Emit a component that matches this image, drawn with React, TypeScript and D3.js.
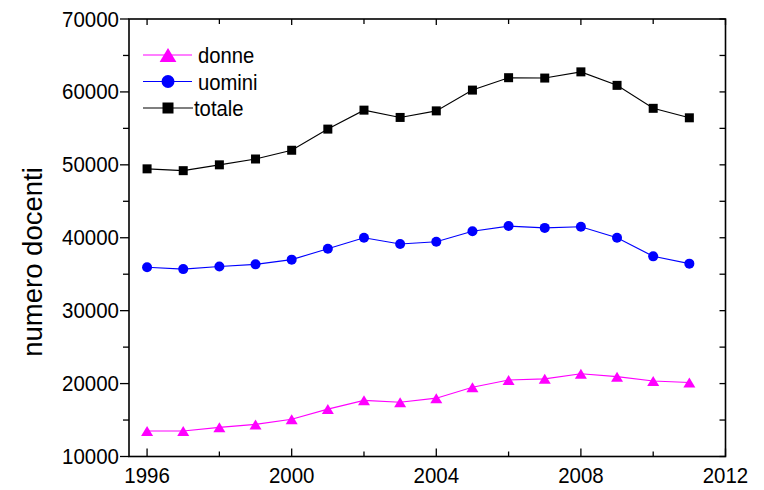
import React from "react";
import * as d3 from "d3";

const years = [1996, 1997, 1998, 1999, 2000, 2001, 2002, 2003, 2004, 2005, 2006, 2007, 2008, 2009, 2010, 2011];
const donne = [13500, 13500, 14000, 14400, 15100, 16500, 17700, 17450, 18000, 19500, 20500, 20650, 21350, 20950, 20350, 20150];
const uomini = [35950, 35700, 36050, 36350, 37000, 38500, 40000, 39150, 39450, 40900, 41600, 41350, 41500, 40000, 37450, 36450];
const totale = [49450, 49200, 50000, 50800, 52000, 54900, 57500, 56500, 57400, 60250, 61950, 61900, 62750, 60900, 57750, 56450];
const xTickLabels = [1996, 2000, 2004, 2008, 2012];
const xMinorTicks = [1998, 2002, 2006, 2010];
const yTickLabels = [10000, 20000, 30000, 40000, 50000, 60000, 70000];
const yMinorTicks = [15000, 25000, 35000, 45000, 55000, 65000];
const seriesNames = ["donne", "uomini", "totale"];
const seriesColors = ["#ff00ff", "#0000ff", "#000000"];
const yLabel = "numero docenti";

const W = 764, H = 490;
const L = 129, R = 725.5, T = 19, B = 456.5;
const FONT = "'Liberation Sans', Arial, sans-serif";

function Marker({ kind, x, y, size, color }: { kind: number; x: number; y: number; size: number; color: string }) {
  if (kind === 0) {
    const w = size * 1.2, h = size;
    return <path d={`M${x},${y - h / 2}L${x + w / 2},${y + h / 2}L${x - w / 2},${y + h / 2}Z`} fill={color} />;
  }
  if (kind === 1) return <circle cx={x} cy={y} r={size / 2} fill={color} />;
  return <rect x={x - size / 2} y={y - size / 2} width={size} height={size} fill={color} />;
}

export default function App() {
  const x = d3.scaleLinear().domain([1995.5, 2012]).range([L, R]);
  const y = d3.scaleLinear().domain([10000, 70000]).range([B, T]);
  const allSeries = [donne, uomini, totale];
  const markerSizes = [10, 10, 9];
  const line = d3.line<[number, number]>().x((d) => x(d[0])).y((d) => y(d[1]));

  return (
    <svg width={W} height={H} style={{ position: "absolute", left: 0, top: 0, background: "#fff" }}>
      <rect x={0} y={0} width={W} height={H} fill="#fff" />
      {allSeries.map((s, i) => (
        <g key={seriesNames[i]}>
          <path d={line(years.map((yr, j) => [yr, s[j]]) as [number, number][]) || ""} fill="none" stroke={seriesColors[i]} strokeWidth={1.1} />
          {years.map((yr, j) => (
            <Marker key={yr} kind={i} x={x(yr)} y={y(s[j])} size={markerSizes[i]} color={seriesColors[i]} />
          ))}
        </g>
      ))}
      {/* frame */}
      <rect x={L} y={T} width={R - L} height={B - T} fill="none" stroke="#000" strokeWidth={1.6} />
      {/* bottom & top ticks */}
      {xTickLabels.map((t) => (
        <g key={"xt" + t}>
          <line x1={x(t)} x2={x(t)} y1={B} y2={B - 8} stroke="#000" strokeWidth={1.3} />
          <line x1={x(t)} x2={x(t)} y1={T} y2={T + 6} stroke="#000" strokeWidth={1.3} />
          <g transform={`translate(${x(t)},${483}) scale(0.93,1)`}>
            <text x={0} y={0} textAnchor="middle" fontFamily={FONT} fontSize={22} fill="#000">{t}</text>
          </g>
        </g>
      ))}
      {xMinorTicks.map((t) => (
        <g key={"xm" + t}>
          <line x1={x(t)} x2={x(t)} y1={B} y2={B - 5} stroke="#000" strokeWidth={1.3} />
          <line x1={x(t)} x2={x(t)} y1={T} y2={T + 5} stroke="#000" strokeWidth={1.3} />
        </g>
      ))}
      {/* left & right ticks */}
      {yTickLabels.map((t) => (
        <g key={"yt" + t}>
          <line x1={L} x2={L - 9} y1={y(t)} y2={y(t)} stroke="#000" strokeWidth={1.3} />
          <line x1={R} x2={R - 6} y1={y(t)} y2={y(t)} stroke="#000" strokeWidth={1.3} />
          <g transform={`translate(${119},${y(t) + 7.5}) scale(0.93,1)`}>
            <text x={0} y={0} textAnchor="end" fontFamily={FONT} fontSize={22} fill="#000">{t}</text>
          </g>
        </g>
      ))}
      {yMinorTicks.map((t) => (
        <g key={"ym" + t}>
          <line x1={L} x2={L - 6} y1={y(t)} y2={y(t)} stroke="#000" strokeWidth={1.3} />
          <line x1={R} x2={R - 6} y1={y(t)} y2={y(t)} stroke="#000" strokeWidth={1.3} />
        </g>
      ))}
      {/* y label */}
      <text transform={`translate(42,262) rotate(-90)`} textAnchor="middle" fontFamily={FONT} fontSize={27.5} fill="#000">{yLabel}</text>
      {/* legend */}
      {seriesNames.map((n, i) => {
        const cy = 55 + i * 26.5;
        const legendSizes = [14, 13, 11];
        return (
          <g key={"lg" + n}>
            <line x1={143} x2={i === 2 ? 193 : 192} y1={cy} y2={cy} stroke={seriesColors[i]} strokeWidth={1.1} />
            <Marker kind={i} x={168} y={cy} size={legendSizes[i]} color={seriesColors[i]} />
            <g transform={`translate(${i === 2 ? 194 : 198},${cy + 8}) scale(0.9,1)`}>
              <text x={0} y={0} fontFamily={FONT} fontSize={22.5} fill="#000">{n}</text>
            </g>
          </g>
        );
      })}
    </svg>
  );
}
